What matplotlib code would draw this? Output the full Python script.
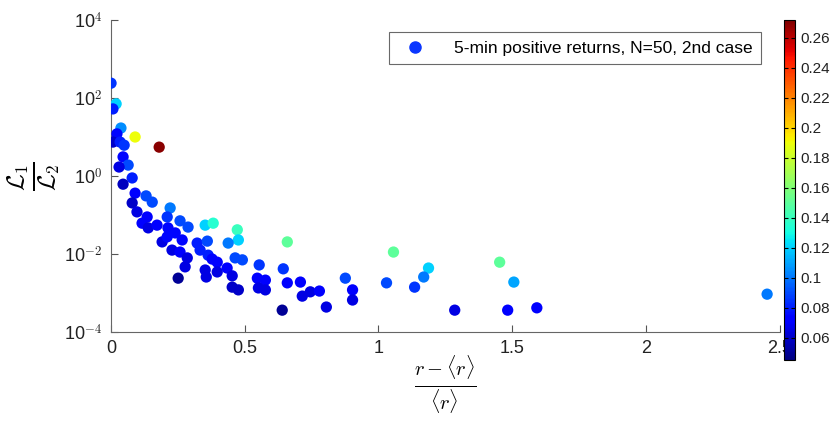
import matplotlib
matplotlib.use("Agg")
import matplotlib.pyplot as plt
import numpy as np
from matplotlib.lines import Line2D
from matplotlib.ticker import FormatStrFormatter

plt.rcParams["font.family"] = ["Liberation Sans", "DejaVu Sans"]
plt.rcParams["mathtext.fontset"] = "cm"

# relative deviation (r - <r>)/<r>
x = [0.000, 0.019, 0.007, 0.037, 0.022, 0.007, 0.034, 0.049, 0.090, 0.180,
     0.045, 0.064, 0.030, 0.079, 0.045, 0.090, 0.131, 0.154, 0.079, 0.097,
     0.135, 0.116, 0.139, 0.172, 0.221, 0.210, 0.258, 0.288, 0.213, 0.240,
     0.191, 0.266, 0.228, 0.258, 0.285, 0.277, 0.251, 0.352, 0.382, 0.472,
     0.476, 0.438, 0.322, 0.360, 0.333, 0.363, 0.352, 0.397, 0.356, 0.397,
     0.434, 0.464, 0.491, 0.378, 0.453, 0.453, 0.476, 0.554, 0.547, 0.577,
     0.551, 0.577, 0.659, 0.644, 0.659, 0.708, 0.715, 0.745, 0.779, 0.640,
     0.805, 0.876, 0.903, 0.903, 1.030, 1.056, 1.187, 1.169, 1.135, 1.285,
     1.453, 1.506, 1.483, 1.592, 2.453, 0.210]
# log10 of L1/L2
log_ratio = [2.38, 1.85, 1.72, 1.23, 1.08, 0.87, 0.87, 0.79, 1.00, 0.74,
             0.49, 0.28, 0.23, -0.05, -0.21, -0.44, -0.51, -0.67, -0.69, -0.92,
             -1.05, -1.21, -1.33, -1.26, -0.82, -1.05, -1.15, -1.31, -1.33, -1.46,
             -1.69, -1.64, -1.90, -1.95, -2.10, -2.33, -2.62, -1.26, -1.21, -1.38,
             -1.64, -1.72, -1.72, -1.67, -1.90, -2.03, -2.41, -2.21, -2.59, -2.46,
             -2.36, -2.10, -2.15, -2.13, -2.56, -2.85, -2.92, -2.28, -2.62, -2.67,
             -2.87, -2.92, -1.69, -2.38, -2.74, -2.72, -3.08, -2.97, -2.95, -3.44,
             -3.36, -2.62, -2.92, -3.18, -2.74, -1.95, -2.36, -2.59, -2.85, -3.44,
             -2.21, -2.72, -3.44, -3.38, -3.03, -1.56]
# colour value
cval = [0.085, 0.12, 0.08, 0.105, 0.075, 0.06, 0.08, 0.085, 0.19, 0.27,
        0.075, 0.09, 0.065, 0.08, 0.058, 0.07, 0.09, 0.09, 0.06, 0.065,
        0.07, 0.07, 0.065, 0.07, 0.10, 0.085, 0.09, 0.09, 0.075, 0.075,
        0.065, 0.075, 0.065, 0.07, 0.065, 0.065, 0.05, 0.12, 0.135, 0.14,
        0.12, 0.10, 0.08, 0.09, 0.08, 0.08, 0.065, 0.07, 0.065, 0.065,
        0.07, 0.09, 0.09, 0.07, 0.065, 0.06, 0.06, 0.085, 0.07, 0.07,
        0.065, 0.065, 0.15, 0.085, 0.07, 0.07, 0.065, 0.065, 0.07, 0.05,
        0.065, 0.09, 0.07, 0.065, 0.09, 0.15, 0.12, 0.10, 0.085, 0.065,
        0.15, 0.11, 0.07, 0.07, 0.10, 0.075]

cbar_ticks = [0.06, 0.08, 0.10, 0.12, 0.14, 0.16, 0.18, 0.20, 0.22, 0.24, 0.26]
legend_label = "5-min positive returns, N=50, 2nd case"

y = 10 ** np.array(log_ratio)

fig = plt.figure(figsize=(8.33, 4.21), dpi=100)
ax = fig.add_axes([0.1333, 0.2114, 0.8027, 0.7411])
sc = ax.scatter(x, y, c=cval, cmap="jet", vmin=0.045, vmax=0.272, s=66,
                edgecolors="none", zorder=3)
ax.set_yscale("log")
ax.set_xlim(0, 2.5)
ax.set_ylim(1e-4, 1e4)
ax.set_xticks([0, 0.5, 1, 1.5, 2, 2.5])
ax.set_xticklabels(["0", "0.5", "1", "1.5", "2", "2.5"])
ax.set_yticks([1e-4, 1e-2, 1e0, 1e2, 1e4])
ax.set_yticklabels([r"10$^{-4}$", r"10$^{-2}$", r"10$^{0}$", r"10$^{2}$", r"10$^{4}$"])
ax.yaxis.set_minor_locator(matplotlib.ticker.NullLocator())
ax.tick_params(direction="in", length=5, width=0.8, color="#555555",
               labelsize=13, labelcolor="#222222", pad=6)
for side in ["top", "right"]:
    ax.spines[side].set_visible(False)
for side in ["left", "bottom"]:
    ax.spines[side].set_color("#666666")

ax.set_xlabel(r"$\frac{r - \langle r\rangle}{\langle r\rangle}$", fontsize=21, labelpad=-2)
ax.set_ylabel(r"$\frac{\mathcal{L}_1}{\mathcal{L}_2}$", fontsize=25)
ax.yaxis.set_label_coords(-0.072, 0.5)

handle = Line2D([], [], marker="o", linestyle="none", color="#0a36ff", markersize=8)
leg = ax.legend([handle], [legend_label], loc="upper right", fontsize=12.5,
                frameon=True, fancybox=False, edgecolor="#444444",
                borderpad=0.5, handletextpad=1.2, bbox_to_anchor=(0.985, 0.99))
leg.get_frame().set_linewidth(0.8)

cax = fig.add_axes([0.9412, 0.1449, 0.0132, 0.8076])
cb = fig.colorbar(sc, cax=cax, ticks=cbar_ticks)
cb.ax.yaxis.set_major_formatter(FormatStrFormatter("%g"))
cb.ax.tick_params(direction="in", left=True, right=True, length=3, width=0.8,
                  labelsize=11, labelcolor="#222222")
cb.outline.set_linewidth(0.8)

fig.savefig("out.png", dpi=100)
